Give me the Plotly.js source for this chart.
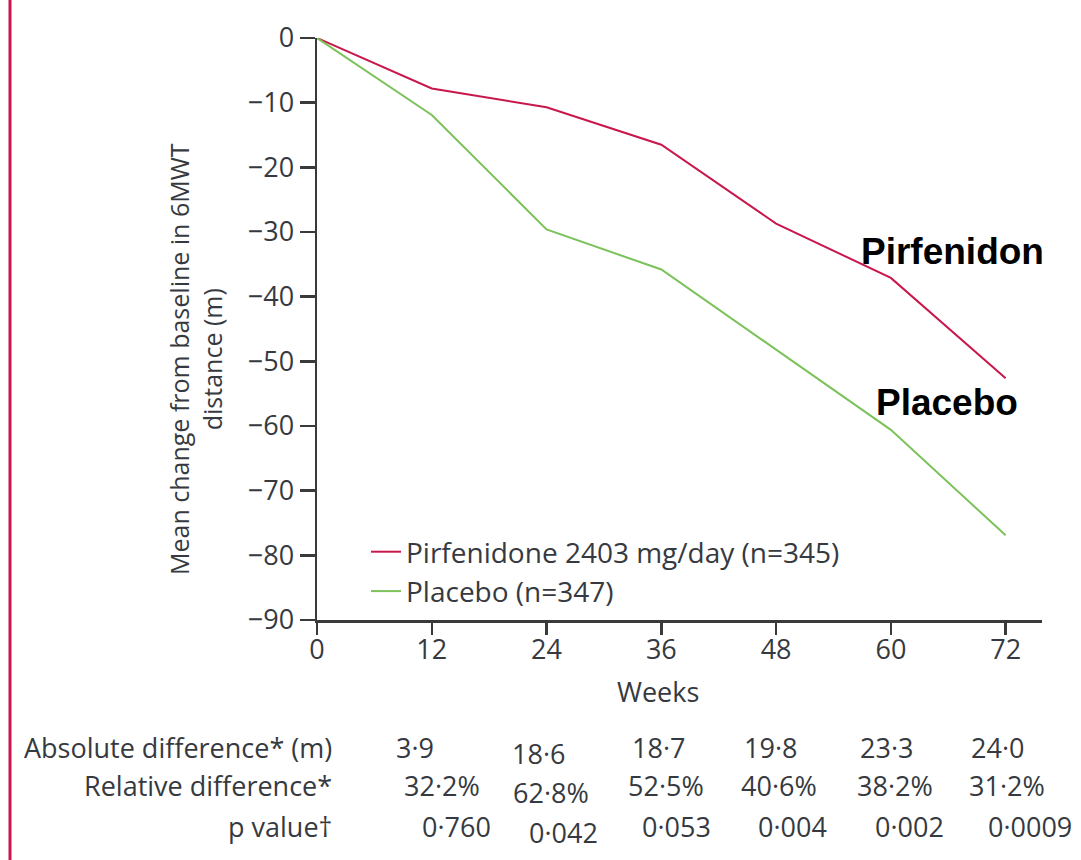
<!DOCTYPE html>
<html>
<head>
<meta charset="utf-8">
<script src="https://cdn.plot.ly/plotly-3.0.1.min.js"></script>
<style>
  html, body { margin: 0; padding: 0; background: #ffffff; }
  #chart { width: 1081px; height: 860px; }
</style>
</head>
<body>
<div id="chart"></div>
<script>
// ---- data ----
const weeks = [0, 12, 24, 36, 48, 60, 72];
const pirfenidone = [0, -7.8, -10.7, -16.5, -28.7, -37.1, -52.6];
const placebo = [0, -11.9, -29.6, -35.8, -48.2, -60.6, -76.9];
const seriesNames = ["Pirfenidone 2403 mg/day (n=345)", "Placebo (n=347)"];
const xTicks = [0, 12, 24, 36, 48, 60, 72];
const yTicks = [0, -10, -20, -30, -40, -50, -60, -70, -80, -90];
const rowLabels = ["Absolute difference* (m)", "Relative difference*", "p value\u2020"];
const absoluteDiff = ["3\u00b79", "18\u00b76", "18\u00b77", "19\u00b78", "23\u00b73", "24\u00b70"];
const relativeDiff = ["32\u00b72%", "62\u00b78%", "52\u00b75%", "40\u00b76%", "38\u00b72%", "31\u00b72%"];
const pValues = ["0\u00b7760", "0\u00b7042", "0\u00b7053", "0\u00b7004", "0\u00b7002", "0\u00b70009"];
const curveLabels = ["Pirfenidon", "Placebo"];

// ---- layout helpers (pixel -> paper) ----
const M = {l: 317, r: 39, t: 38, b: 240};
const PW = 1081 - M.l - M.r, PH = 860 - M.t - M.b;
const px = p => (p - M.l) / PW;
const py = p => (860 - M.b - p) / PH;

const textColor = '#363a40';
const axisColor = '#3a3a3a';
const bodyFont = 'Open Sans, Noto Sans, sans-serif';

const traces = [
  {x: weeks, y: pirfenidone, name: seriesNames[0], type: 'scatter', mode: 'lines',
   line: {color: '#c8174b', width: 2}, cliponaxis: false, legendgroup: 'a'},
  {x: weeks, y: placebo, name: seriesNames[1], type: 'scatter', mode: 'lines',
   line: {color: '#7cc25a', width: 2}, cliponaxis: false, legendgroup: 'b'}
];

const annotations = [];
// curve labels
const curveLabelPos = [[952, 251], [947, 402]];
curveLabels.forEach((t, i) => annotations.push({
  text: '<b>' + t + '</b>', xref: 'paper', yref: 'paper',
  x: px(curveLabelPos[i][0]), y: py(curveLabelPos[i][1]),
  xanchor: 'center', yanchor: 'middle', showarrow: false,
  font: {family: 'Liberation Sans, Arial, sans-serif', size: 37, color: '#000000'}
}));
// axis titles
annotations.push({
  text: 'Mean change from baseline in 6MWT<br>distance (m)', textangle: -90,
  xref: 'paper', yref: 'paper', x: px(195), y: py(359),
  xanchor: 'center', yanchor: 'middle', showarrow: false,
  font: {family: bodyFont, size: 25, color: textColor}
});
annotations.push({
  text: 'Weeks', xref: 'paper', yref: 'paper', x: px(658), y: py(691),
  xanchor: 'center', yanchor: 'middle', showarrow: false,
  font: {family: bodyFont, size: 27, color: textColor}
});
// table
const rowY = [747, 786, 826];
const colX = [
  [415, 538, 658, 770, 886, 997],
  [442, 551, 666, 779, 895, 1007],
  [456, 563, 676, 792, 909, 1030]
];
const colShift = [0, 6, 0, 0, 0, 0];
const rows = [absoluteDiff, relativeDiff, pValues];
rowLabels.forEach((t, r) => {
  annotations.push({
    text: t, xref: 'paper', yref: 'paper', x: px(334), y: py(rowY[r]),
    xanchor: 'right', yanchor: 'middle', showarrow: false,
    font: {family: bodyFont, size: 27, color: textColor}
  });
  rows[r].forEach((v, c) => annotations.push({
    text: v, xref: 'paper', yref: 'paper', x: px(colX[r][c]), y: py(rowY[r] + colShift[c]),
    xanchor: 'center', yanchor: 'middle', showarrow: false,
    font: {family: bodyFont, size: 27, color: textColor}
  }));
});

const layout = {
  width: 1081, height: 860,
  margin: M,
  paper_bgcolor: '#ffffff', plot_bgcolor: '#ffffff',
  showlegend: true,
  legend: {
    x: px(366), y: py(527), xanchor: 'left', yanchor: 'top',
    bgcolor: 'rgba(0,0,0,0)', traceorder: 'grouped', tracegroupgap: 0,
    font: {family: bodyFont, size: 28, color: textColor}
  },
  xaxis: {
    range: [0, 75.8], tickvals: xTicks, ticks: 'outside', ticklen: 12, tickwidth: 2.5,
    tickcolor: axisColor, showline: true, linecolor: axisColor, linewidth: 2.5,
    zeroline: false, showgrid: false, fixedrange: true, ticklabelstandoff: -8,
    tickfont: {family: bodyFont, size: 27, color: textColor}
  },
  yaxis: {
    range: [-90, 0], tickvals: yTicks, ticks: 'outside', ticklen: 15, tickwidth: 2.5,
    tickcolor: axisColor, showline: true, linecolor: axisColor, linewidth: 2.5,
    zeroline: false, showgrid: false, fixedrange: true,
    tickfont: {family: bodyFont, size: 27, color: textColor}
  },
  shapes: [{
    type: 'line', xref: 'paper', yref: 'paper',
    x0: px(10), x1: px(10), y0: py(860), y1: py(0),
    line: {color: '#c8174b', width: 3}
  }],
  annotations: annotations
};

Plotly.newPlot('chart', traces, layout, {displayModeBar: false, staticPlot: true});
</script>
</body>
</html>
